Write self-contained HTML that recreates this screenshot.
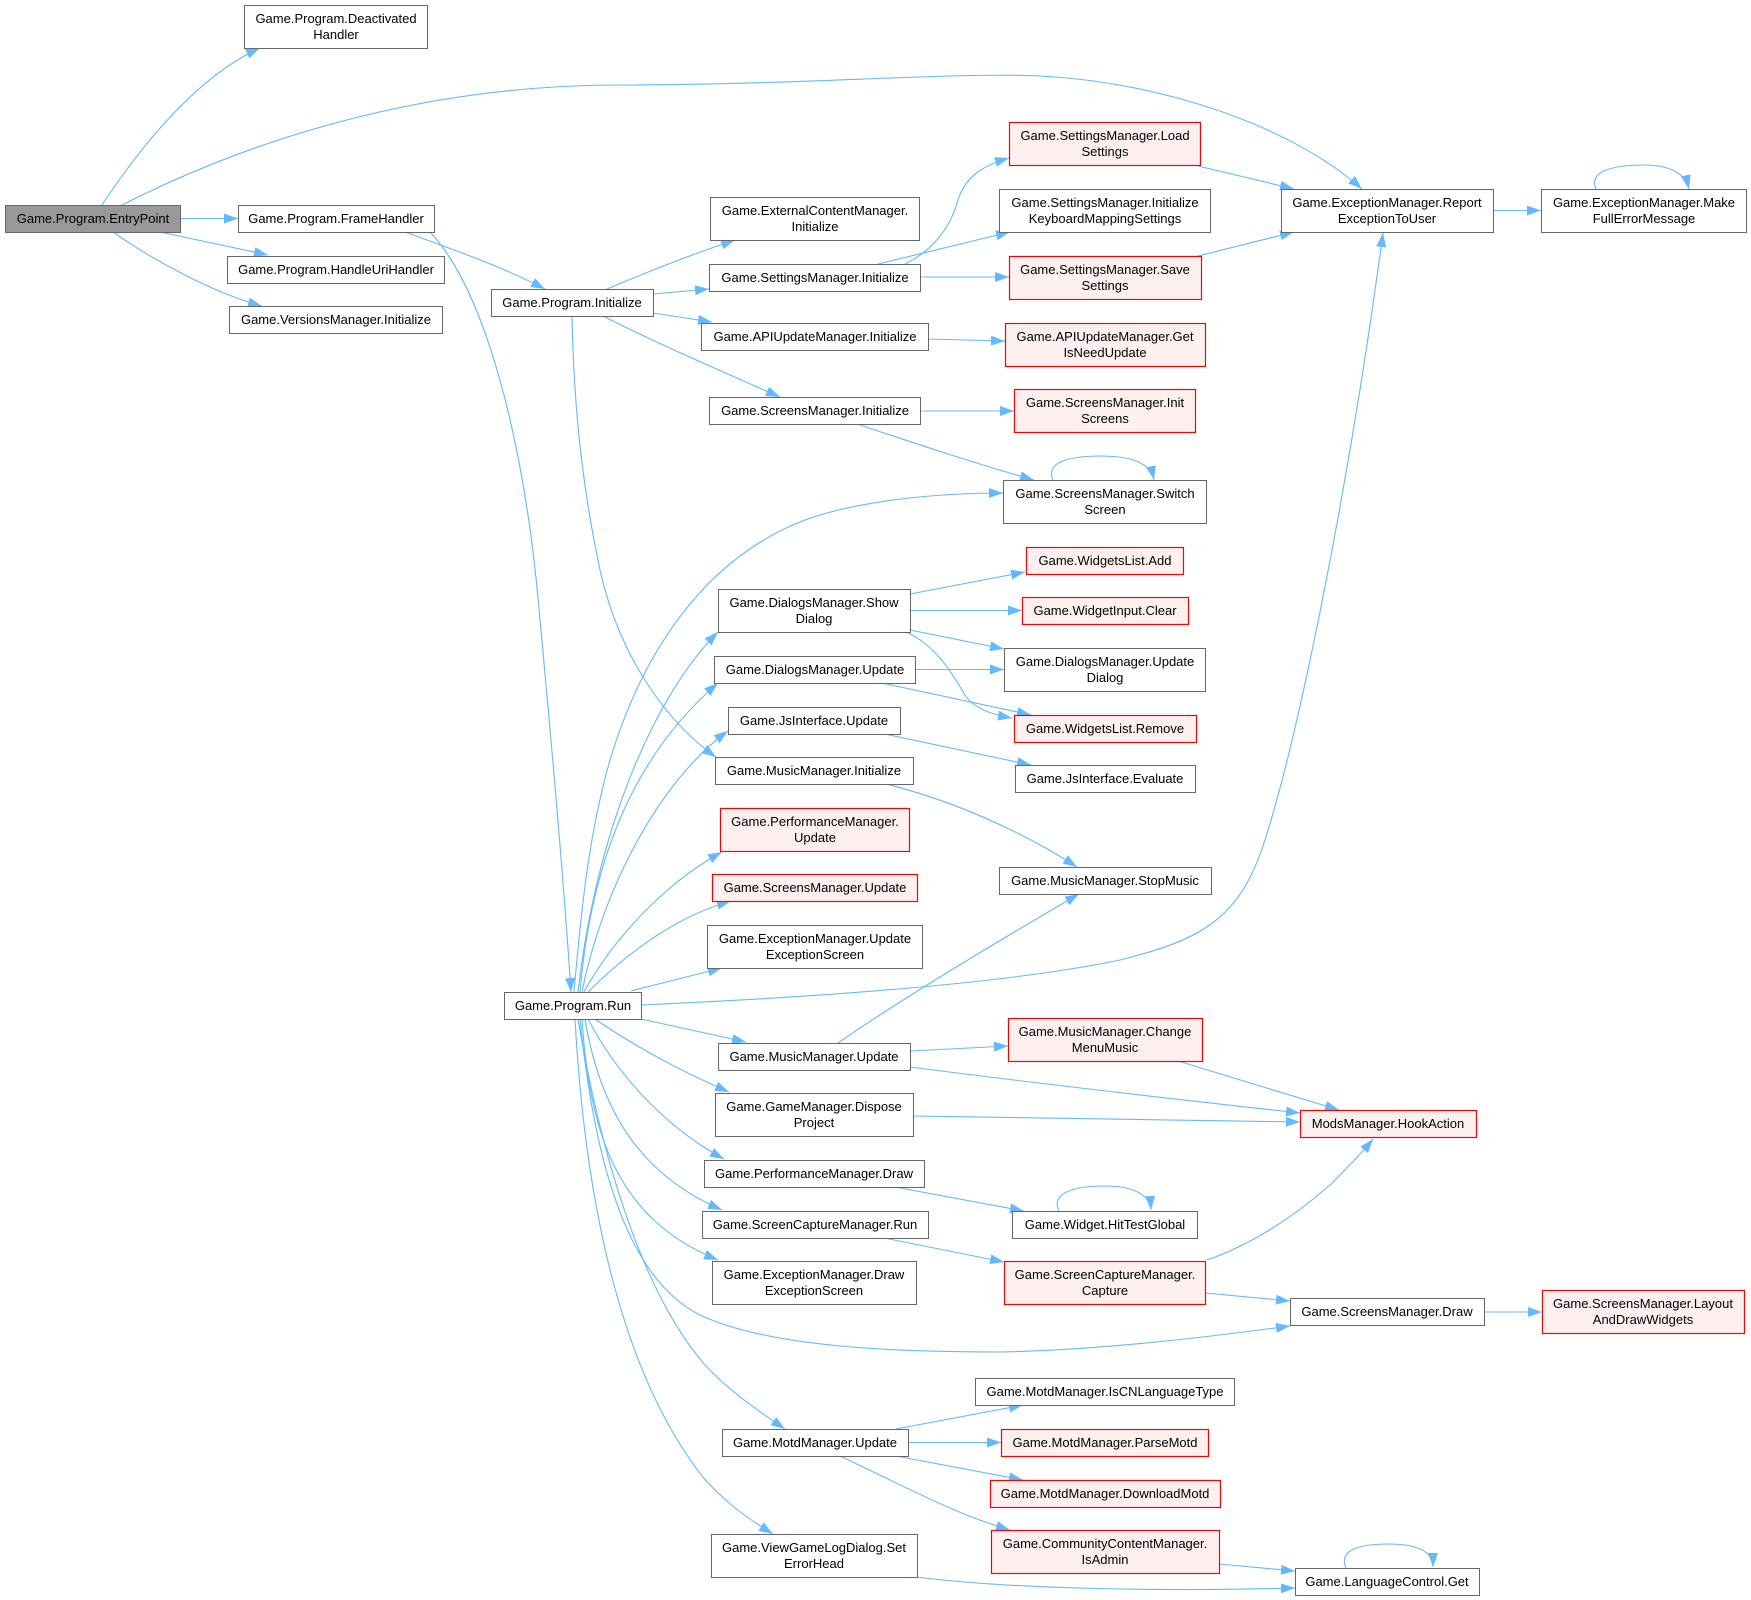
<!DOCTYPE html>
<html><head><meta charset="utf-8"><style>
html,body{margin:0;padding:0;background:#fff;}
svg{display:block;}
text{font-family:"Liberation Sans",Arial,sans-serif;font-size:13px;fill:#000;text-anchor:middle;}
.n{fill:#fff;stroke:#666;stroke-width:1;}
.r{fill:#fff0f0;stroke:#ff0000;stroke-width:1.2;}
.g{fill:#999;stroke:#666;stroke-width:1;}
.e{fill:none;stroke:#63b8ff;stroke-width:1.1;marker-end:url(#a);}
</style></head><body>
<svg width="1751" height="1600" viewBox="0 0 1751 1600" xmlns="http://www.w3.org/2000/svg">
<defs><marker id="a" markerUnits="userSpaceOnUse" markerWidth="14" markerHeight="10" viewBox="0 0 14 10" refX="14" refY="5" orient="auto"><path d="M0,0 L14,5 L0,10 z" fill="#63b8ff"/></marker></defs>
<g>
<path class="e" d="M102,205 C145,140 200,75 260,48"/>
<path class="e" d="M122,205 C260,135 430,85 620,85 C800,85 950,72 1040,76 C1160,82 1290,125 1362,189"/>
<path class="e" d="M180,218.5 L238,218.5"/>
<path class="e" d="M160,232 L268,255"/>
<path class="e" d="M113,232 C150,258 210,292 262,306"/>
<path class="e" d="M405,232 C460,252 505,268 545,289"/>
<path class="e" d="M430,232 C485,290 525,440 540,620 C555,780 565,900 571,992"/>
<path class="e" d="M607,289 C640,275 690,255 735,240"/>
<path class="e" d="M653,294 L709,289"/>
<path class="e" d="M653,313 L712,322"/>
<path class="e" d="M603,316 C660,345 730,375 780,397"/>
<path class="e" d="M572,316 C574,420 585,500 600,570 C620,660 670,725 716,757"/>
<path class="e" d="M905,264 C930,252 950,230 958,200 C966,175 985,165 1009,158"/>
<path class="e" d="M878,264 L1010,232"/>
<path class="e" d="M920,277 L1009,277"/>
<path class="e" d="M1198,166 L1294,189"/>
<path class="e" d="M1198,256 L1294,232"/>
<path class="e" d="M1493,210.5 L1541,210.5"/>
<path class="e" d="M1596,189 C1588,172 1612,165 1643,165 C1668,165 1685,172 1689,189"/>
<path class="e" d="M928,339 L1005,341"/>
<path class="e" d="M920,411 L1014,411"/>
<path class="e" d="M860,425 C920,445 980,465 1034,480"/>
<path class="e" d="M1053,480 C1045,462 1070,456 1100,456 C1130,456 1150,462 1154,480"/>
<path class="e" d="M574,992 C582,900 590,830 610,760 C640,660 700,560 805,520 C860,500 940,493 1003,493"/>
<path class="e" d="M578,992 C595,840 650,700 718,632"/>
<path class="e" d="M580,992 C592,850 640,750 718,683"/>
<path class="e" d="M582,992 C602,890 660,780 728,731"/>
<path class="e" d="M584,992 C615,935 670,880 722,852"/>
<path class="e" d="M588,992 C630,950 680,915 731,901"/>
<path class="e" d="M631,991 L722,968"/>
<path class="e" d="M641,1005 C800,998 1000,985 1120,960 C1200,940 1240,920 1265,840 C1300,730 1350,480 1383,233"/>
<path class="e" d="M641,1019 L746,1042"/>
<path class="e" d="M595,1019 C640,1050 690,1075 729,1092"/>
<path class="e" d="M588,1019 C620,1080 670,1130 724,1159"/>
<path class="e" d="M585,1019 C600,1110 640,1175 722,1210"/>
<path class="e" d="M582,1019 C590,1140 620,1220 718,1260"/>
<path class="e" d="M580,1019 C595,1170 630,1280 700,1315 C770,1348 900,1352 1000,1352 C1100,1350 1200,1338 1290,1326"/>
<path class="e" d="M578,1019 C600,1150 640,1290 705,1365 C730,1392 760,1412 785,1429"/>
<path class="e" d="M575,1019 C585,1200 620,1370 702,1476 C725,1503 750,1520 773,1534"/>
<path class="e" d="M910,594 L1025,572"/>
<path class="e" d="M910,610.5 L1022,610.5"/>
<path class="e" d="M910,630 L1004,649"/>
<path class="e" d="M906,632 C935,645 950,670 965,695 C975,710 995,715 1012,718"/>
<path class="e" d="M915,669.5 L1004,669.5"/>
<path class="e" d="M882,683 L1031,715"/>
<path class="e" d="M882,733.5 L1031,765"/>
<path class="e" d="M888,784.5 C950,800 1020,830 1077,867"/>
<path class="e" d="M838,1043 C900,1000 1000,940 1079,894"/>
<path class="e" d="M910,1051 L1008,1046"/>
<path class="e" d="M910,1067 C1050,1085 1200,1102 1300,1113"/>
<path class="e" d="M913,1116 L1300,1122"/>
<path class="e" d="M1178,1061 L1339,1110"/>
<path class="e" d="M895,1187 L1024,1211"/>
<path class="e" d="M1059,1211 C1050,1193 1075,1186 1104,1186 C1130,1186 1150,1193 1151,1210"/>
<path class="e" d="M884,1238 L1004,1262"/>
<path class="e" d="M1207,1260 C1250,1245 1290,1220 1330,1185 C1345,1170 1360,1155 1373,1139"/>
<path class="e" d="M1205,1293 L1290,1301"/>
<path class="e" d="M1484,1312 L1542,1312"/>
<path class="e" d="M896,1429 L1023,1405"/>
<path class="e" d="M908,1442.5 L1001,1442.5"/>
<path class="e" d="M896,1456 L1023,1480"/>
<path class="e" d="M840,1456 C880,1475 920,1495 950,1508 C970,1517 990,1524 1010,1530"/>
<path class="e" d="M1219,1564 L1295,1571"/>
<path class="e" d="M917,1577 C1000,1588 1150,1592 1295,1588"/>
<path class="e" d="M1346,1568 C1338,1550 1360,1544 1388,1544 C1415,1544 1433,1550 1433,1567"/>
</g>
<g>
<rect class="g" x="5.5" y="205.5" width="175" height="27"/><text x="93" y="223">Game.Program.EntryPoint</text>
<rect class="n" x="244.5" y="5.5" width="183" height="43"/><text x="336" y="23">Game.Program.Deactivated</text><text x="336" y="39">Handler</text>
<rect class="n" x="238.5" y="205.5" width="196" height="27"/><text x="336" y="223">Game.Program.FrameHandler</text>
<rect class="n" x="227.5" y="256.5" width="217" height="27"/><text x="336" y="274">Game.Program.HandleUriHandler</text>
<rect class="n" x="229.5" y="306.5" width="213" height="27"/><text x="336" y="324">Game.VersionsManager.Initialize</text>
<rect class="n" x="491.5" y="289.5" width="162" height="27"/><text x="572" y="307">Game.Program.Initialize</text>
<rect class="n" x="710.5" y="197.5" width="209" height="43"/><text x="815" y="215">Game.ExternalContentManager.</text><text x="815" y="231">Initialize</text>
<rect class="n" x="709.5" y="264.5" width="211" height="27"/><text x="815" y="282">Game.SettingsManager.Initialize</text>
<rect class="n" x="701.5" y="323.5" width="227" height="27"/><text x="815" y="341">Game.APIUpdateManager.Initialize</text>
<rect class="n" x="709.5" y="397.5" width="211" height="27"/><text x="815" y="415">Game.ScreensManager.Initialize</text>
<rect class="r" x="1009.5" y="122.5" width="191" height="43"/><text x="1105" y="140">Game.SettingsManager.Load</text><text x="1105" y="156">Settings</text>
<rect class="n" x="999.5" y="189.5" width="211" height="43"/><text x="1105" y="207">Game.SettingsManager.Initialize</text><text x="1105" y="223">KeyboardMappingSettings</text>
<rect class="r" x="1009.5" y="256.5" width="192" height="43"/><text x="1105" y="274">Game.SettingsManager.Save</text><text x="1105" y="290">Settings</text>
<rect class="r" x="1005.5" y="323.5" width="200" height="43"/><text x="1105" y="341">Game.APIUpdateManager.Get</text><text x="1105" y="357">IsNeedUpdate</text>
<rect class="r" x="1014.5" y="389.5" width="181" height="43"/><text x="1105" y="407">Game.ScreensManager.Init</text><text x="1105" y="423">Screens</text>
<rect class="n" x="1003.5" y="480.5" width="203" height="43"/><text x="1105" y="498">Game.ScreensManager.Switch</text><text x="1105" y="514">Screen</text>
<rect class="n" x="1281.5" y="189.5" width="212" height="43"/><text x="1387" y="207">Game.ExceptionManager.Report</text><text x="1387" y="223">ExceptionToUser</text>
<rect class="n" x="1541.5" y="189.5" width="205" height="43"/><text x="1644" y="207">Game.ExceptionManager.Make</text><text x="1644" y="223">FullErrorMessage</text>
<rect class="n" x="718.5" y="589.5" width="192" height="43"/><text x="814" y="607">Game.DialogsManager.Show</text><text x="814" y="623">Dialog</text>
<rect class="n" x="714.5" y="656.5" width="201" height="27"/><text x="815" y="674">Game.DialogsManager.Update</text>
<rect class="n" x="728.5" y="707.5" width="172" height="27"/><text x="814" y="725">Game.JsInterface.Update</text>
<rect class="n" x="715.5" y="757.5" width="198" height="27"/><text x="814" y="775">Game.MusicManager.Initialize</text>
<rect class="r" x="720.5" y="808.5" width="189" height="43"/><text x="815" y="826">Game.PerformanceManager.</text><text x="815" y="842">Update</text>
<rect class="r" x="712.5" y="874.5" width="205" height="27"/><text x="815" y="892">Game.ScreensManager.Update</text>
<rect class="n" x="707.5" y="925.5" width="215" height="43"/><text x="815" y="943">Game.ExceptionManager.Update</text><text x="815" y="959">ExceptionScreen</text>
<rect class="n" x="504.5" y="992.5" width="137" height="27"/><text x="573" y="1010">Game.Program.Run</text>
<rect class="n" x="718.5" y="1043.5" width="192" height="27"/><text x="814" y="1061">Game.MusicManager.Update</text>
<rect class="n" x="715.5" y="1093.5" width="198" height="43"/><text x="814" y="1111">Game.GameManager.Dispose</text><text x="814" y="1127">Project</text>
<rect class="n" x="704.5" y="1160.5" width="220" height="27"/><text x="814" y="1178">Game.PerformanceManager.Draw</text>
<rect class="n" x="702.5" y="1211.5" width="226" height="27"/><text x="815" y="1229">Game.ScreenCaptureManager.Run</text>
<rect class="n" x="712.5" y="1261.5" width="204" height="43"/><text x="814" y="1279">Game.ExceptionManager.Draw</text><text x="814" y="1295">ExceptionScreen</text>
<rect class="n" x="722.5" y="1429.5" width="186" height="27"/><text x="815" y="1447">Game.MotdManager.Update</text>
<rect class="n" x="711.5" y="1534.5" width="206" height="43"/><text x="814" y="1552">Game.ViewGameLogDialog.Set</text><text x="814" y="1568">ErrorHead</text>
<rect class="r" x="1026.5" y="547.5" width="157" height="27"/><text x="1105" y="565">Game.WidgetsList.Add</text>
<rect class="r" x="1022.5" y="597.5" width="166" height="27"/><text x="1105" y="615">Game.WidgetInput.Clear</text>
<rect class="n" x="1004.5" y="648.5" width="201" height="43"/><text x="1105" y="666">Game.DialogsManager.Update</text><text x="1105" y="682">Dialog</text>
<rect class="r" x="1014.5" y="715.5" width="182" height="27"/><text x="1105" y="733">Game.WidgetsList.Remove</text>
<rect class="n" x="1015.5" y="765.5" width="180" height="27"/><text x="1105" y="783">Game.JsInterface.Evaluate</text>
<rect class="n" x="999.5" y="867.5" width="212" height="27"/><text x="1105" y="885">Game.MusicManager.StopMusic</text>
<rect class="r" x="1008.5" y="1018.5" width="194" height="43"/><text x="1105" y="1036">Game.MusicManager.Change</text><text x="1105" y="1052">MenuMusic</text>
<rect class="r" x="1300.5" y="1110.5" width="176" height="27"/><text x="1388" y="1128">ModsManager.HookAction</text>
<rect class="n" x="1012.5" y="1211.5" width="185" height="27"/><text x="1105" y="1229">Game.Widget.HitTestGlobal</text>
<rect class="r" x="1004.5" y="1261.5" width="201" height="43"/><text x="1105" y="1279">Game.ScreenCaptureManager.</text><text x="1105" y="1295">Capture</text>
<rect class="n" x="1290.5" y="1298.5" width="194" height="27"/><text x="1387" y="1316">Game.ScreensManager.Draw</text>
<rect class="r" x="1542.5" y="1290.5" width="202" height="43"/><text x="1643" y="1308">Game.ScreensManager.Layout</text><text x="1643" y="1324">AndDrawWidgets</text>
<rect class="n" x="975.5" y="1378.5" width="259" height="27"/><text x="1105" y="1396">Game.MotdManager.IsCNLanguageType</text>
<rect class="r" x="1001.5" y="1429.5" width="207" height="27"/><text x="1105" y="1447">Game.MotdManager.ParseMotd</text>
<rect class="r" x="990.5" y="1480.5" width="230" height="27"/><text x="1105" y="1498">Game.MotdManager.DownloadMotd</text>
<rect class="r" x="991.5" y="1530.5" width="228" height="43"/><text x="1105" y="1548">Game.CommunityContentManager.</text><text x="1105" y="1564">IsAdmin</text>
<rect class="n" x="1295.5" y="1568.5" width="184" height="27"/><text x="1387" y="1586">Game.LanguageControl.Get</text>
</g>
</svg>
</body></html>
